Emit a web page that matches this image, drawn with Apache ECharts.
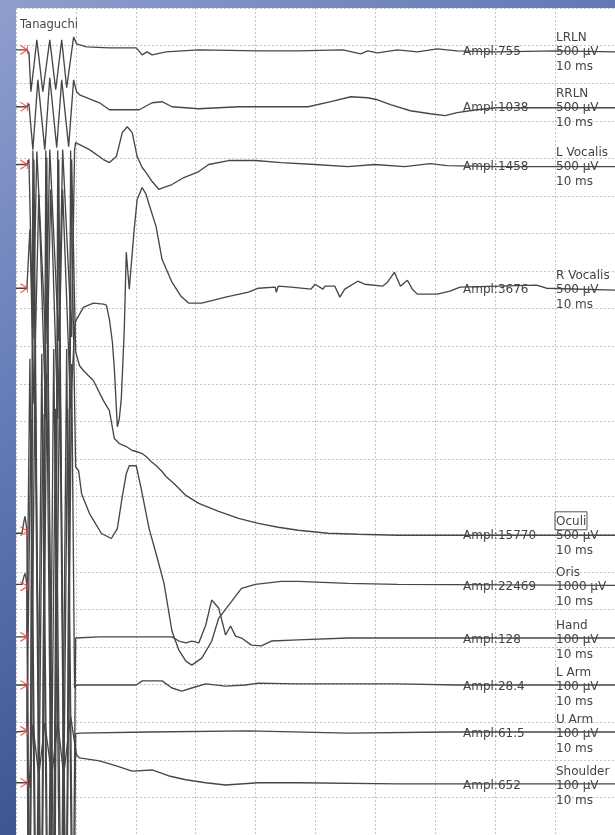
<!DOCTYPE html>
<html><head><meta charset="utf-8">
<script src="https://cdn.jsdelivr.net/npm/echarts@6/dist/echarts.min.js"></script>
<style>html,body{margin:0;padding:0;overflow:hidden;background:#fff}#c{width:615px;height:835px}</style>
</head><body><div id="c"></div>
<script>
// ---------- DATA ----------
const title = 'Tanaguchi';
const channelNames = ['LRLN','RRLN','L Vocalis','R Vocalis','Oculi','Oris','Hand','L Arm','U Arm','Shoulder'];
const sensitivityUV = [500,500,500,500,500,1000,100,100,100,100]; // µV per division
const amplitudes = ['755','1038','1458','3676','15770','22469','128','28.4','61.5','652'];
const timeBaseLabel = '10 ms';
const markerTime = 1.82; // ms

// each trace: [time ms, value µV]
const LRLN = [[0,27],[1.33,27],[1.82,27],[2.16,-13],[2.49,-530],[3.48,159],[4.48,-530],[5.64,159],[6.63,-504],[7.63,159],[8.46,-477],[9.62,199],[10.12,106],[11.77,66],[15.59,53],[20.07,53],[21.06,-40],[21.89,0],[22.72,-40],[25.04,0],[30.51,27],[40.46,13],[47.1,13],[54.56,27],[57.55,-27],[58.71,13],[60.36,-13],[63.68,27],[67,0],[70.32,40],[73.63,13],[80.27,0],[90.22,13],[100,0]];
const RRLN = [[0,13],[1.82,13],[2.16,53],[2.82,-557],[3.65,371],[4.81,-557],[5.64,398],[6.8,-530],[7.63,371],[8.79,-517],[9.62,371],[10.12,212],[10.61,172],[13.93,66],[15.59,-27],[20.56,-27],[22.72,66],[24.38,80],[26.04,13],[30.51,-13],[37.15,13],[48.76,13],[52.57,80],[55.89,146],[58.71,133],[60.36,106],[62.52,40],[65.84,-40],[69.15,-80],[71.64,-106],[73.63,-66],[76.95,-27],[80.27,0],[100,0]];
const LVocalis = [[0,27],[1.82,27],[2.16,93],[2.82,-2294],[3.48,199],[4.98,-2360],[5.64,225],[7.13,-2320],[7.79,225],[9.29,-2267],[9.78,225],[9.95,318],[12.27,225],[14.59,93],[15.59,53],[16.75,133],[17.25,292],[17.74,451],[18.57,530],[19.4,451],[20.23,133],[21.06,-13],[21.72,-80],[22.72,-199],[23.88,-305],[24.71,-278],[26.04,-239],[28.03,-146],[30.51,-66],[32.17,27],[35.49,80],[39.97,80],[44.28,53],[49.92,27],[55.39,0],[59.87,27],[64.84,0],[69.15,40],[71.97,13],[80.27,0],[100,0]];
const RVocalis = [[0,13],[1.82,13],[2.32,796],[2.99,-1525],[3.81,1260],[4.98,-1724],[5.8,1326],[6.97,-1724],[7.79,1326],[9.12,-1591],[9.78,-530],[9.95,-424],[11.28,-239],[12.94,-186],[14.59,-199],[15.09,-212],[15.59,-398],[16.09,-703],[16.42,-1061],[16.92,-1830],[17.25,-1724],[17.58,-1459],[18.08,-530],[18.41,491],[18.91,0],[19.73,796],[20.23,1193],[21.06,1353],[21.72,1260],[22.22,1127],[23.38,835],[24.38,398],[26.04,93],[27.53,-93],[28.86,-186],[31.01,-186],[34.99,-106],[38.81,-40],[40.46,13],[43.28,27],[43.45,-40],[43.78,40],[45.94,27],[49.25,0],[49.92,66],[51.24,0],[51.58,40],[53.23,40],[54.06,-106],[54.89,0],[57.05,106],[58.21,66],[61.19,40],[62.02,93],[63.18,225],[64.18,40],[65.34,119],[66.17,0],[67,-66],[70.32,-66],[72.47,-27],[74.13,27],[86.9,53],[88.56,13],[100,-13]];
const Oculi = [[0,13],[1,13],[1.33,172],[1.49,239],[1.66,159],[1.82,40],[2.16,-6285],[2.99,4986],[4.15,-6285],[5.14,5012],[6.14,-6285],[7.13,4986],[8.29,-6285],[9.29,4986],[9.95,2427],[10.61,2241],[11.28,2175],[12.94,2042],[14.59,1777],[15.59,1644],[16.42,1273],[17.25,1207],[18.41,1167],[19.4,1114],[20.07,1101],[21.06,1074],[21.72,1034],[22.55,968],[23.38,915],[24.38,835],[25.04,769],[26.37,676],[27.2,610],[28.36,517],[30.51,411],[33.83,305],[37.15,212],[40.46,146],[43.78,93],[47.1,53],[52.07,13],[57.05,0],[63.68,-13],[100,-13]];
const Oris = [[0,27],[1,27],[1.33,239],[1.49,318],[1.66,212],[1.82,-27],[2.32,-11222],[2.82,11567],[4.31,-11222],[4.98,11567],[6.47,-11222],[6.97,11567],[8.46,-11222],[9.12,11567],[9.95,3157],[10.45,3051],[10.95,2441],[12.27,1910],[14.26,1380],[15.92,1247],[16.92,1512],[17.74,2361],[18.41,2971],[18.91,3184],[20.07,3184],[20.9,2573],[22.22,1512],[23.38,849],[24.71,53],[26.04,-1220],[27.2,-1724],[28.36,-2016],[29.35,-2122],[31.01,-1936],[32.67,-1485],[33.83,-875],[35.99,-424],[37.65,-80],[39.97,27],[44.28,106],[47.1,106],[55.39,53],[63.68,27],[100,0]];
const Hand = [[0,3],[1.82,3],[2.32,743],[3.32,-982],[4.31,756],[5.31,-982],[6.3,769],[7.46,-982],[8.46,769],[9.45,-982],[9.95,0],[13.93,3],[20.07,3],[26.04,3],[27.2,-8],[28.36,-13],[29.35,-8],[30.51,-13],[31.67,34],[32.67,101],[33.83,80],[34.99,8],[35.82,32],[36.65,5],[37.65,0],[39.3,-19],[40.96,-21],[42.62,-8],[47.1,-5],[55.39,0],[63.68,0],[73.63,0],[100,0]];
const LArm = [[0,0],[1.82,0],[2.16,-857],[3.15,814],[4.15,-857],[5.14,828],[6.14,-857],[7.3,841],[8.29,-857],[9.29,854],[9.78,-8],[10.12,0],[20.07,0],[21.06,11],[24.38,11],[26.04,-8],[27.69,-16],[29.35,-8],[31.67,3],[34.99,-3],[38.31,0],[40.46,5],[47.1,3],[63.68,3],[73.63,0],[100,0]];
const UArm = [[0,0],[1.82,3],[2.49,833],[3.48,-732],[4.48,846],[5.47,-732],[6.63,860],[7.63,-732],[8.62,860],[9.62,-732],[9.95,-5],[10.61,-3],[22.22,0],[38.81,3],[55.39,-3],[71.97,0],[100,0]];
const Shoulder = [[0,3],[1.82,3],[2.16,-11],[2.82,157],[3.81,21],[4.81,162],[5.97,21],[6.97,164],[7.96,24],[9.12,180],[9.78,109],[10.12,77],[10.61,69],[13.93,61],[16.75,48],[19.4,34],[22.72,37],[25.54,21],[28.36,11],[31.67,3],[34.99,-3],[40.46,3],[47.1,3],[63.68,0],[80.27,0],[100,0]];
const traces = [LRLN, RRLN, LVocalis, RVocalis, Oculi, Oris, Hand, LArm, UArm, Shoulder];

// ---------- LAYOUT ----------
const G = {left:16, top:8, width:603, rows:22, rowH:37.7};
const baselineDiv = [1.167, 2.653, 4.218, 7.48, 14.0, 15.36, 16.76, 18.01, 19.26, 20.64];
const traceColor = '#474747';
const textColor = '#444444';
const font = '12px "DejaVu Sans", sans-serif';

const toDiv = (ch) => traces[ch].map(p => [p[0], baselineDiv[ch] - p[1] / sensitivityUV[ch]]);

const series = traces.map((t, i) => ({
  type: 'line', name: channelNames[i], data: toDiv(i), showSymbol: false, symbol: 'none',
  clip: true, animation: false, silent: true, z: 3,
  lineStyle: {color: traceColor, width: 1.35}
}));

// stimulus markers
const markerData = traces.map((t, i) => {
  const p = t.find(q => q[0] === markerTime);
  return [markerTime, baselineDiv[i] - p[1] / sensitivityUV[i]];
});
series.push({
  type: 'scatter', data: markerData, symbol: 'path://M0,0 L6,4 L0,8 M6,0 L6,8',
  symbolSize: [7, 9], symbolOffset: [-3, 0], silent: true, animation: false, z: 4,
  itemStyle: {color: 'rgba(0,0,0,0)', borderColor: '#e8403a', borderWidth: 1.2}
});

const graphic = [];
graphic.push({type: 'text', left: 20, top: 19, z: 5, style: {text: title, font: '11.5px "DejaVu Sans", sans-serif', fill: textColor}});
channelNames.forEach((n, i) => {
  const by = G.top + baselineDiv[i] * G.rowH;
  graphic.push({type: 'text', x: 556, y: by - 14, z: 5, style: {text: n, font, fill: textColor, verticalAlign: 'middle'}});
  graphic.push({type: 'text', x: 556, y: by, z: 5, style: {text: sensitivityUV[i] + ' µV', font, fill: textColor, verticalAlign: 'middle'}});
  graphic.push({type: 'text', x: 556, y: by + 15, z: 5, style: {text: timeBaseLabel, font, fill: textColor, verticalAlign: 'middle'}});
  graphic.push({type: 'text', x: 463, y: by, z: 5, style: {text: 'Ampl:' + amplitudes[i], font, fill: textColor, verticalAlign: 'middle'}});
  if (n === 'Oculi') {
    graphic.push({type: 'rect', z: 5, shape: {x: 555, y: by - 24, width: 32, height: 18}, style: {fill: 'none', stroke: '#555', lineWidth: 1}});
  }
});

const chart = echarts.init(document.getElementById('c'), null, {renderer: 'canvas'});
chart.setOption({
  animation: false,
  backgroundColor: new echarts.graphic.LinearGradient(0, 0, 1, 1, [
    {offset: 0, color: '#909ecd'}, {offset: 0.35, color: '#6179b5'}, {offset: 0.65, color: '#3e5694'}, {offset: 1, color: '#2c4689'}
  ]),
  grid: {left: G.left, top: G.top, width: G.width, height: G.rows * G.rowH, show: true, backgroundColor: '#ffffff', borderWidth: 0},
  xAxis: {type: 'value', min: 0, max: 100, interval: 10,
    axisLine: {show: false}, axisTick: {show: false}, axisLabel: {show: false},
    splitLine: {show: true, lineStyle: {color: '#c4c4c4', width: 1, type: [2, 2]}}},
  yAxis: {type: 'value', min: 0, max: G.rows, interval: 1, inverse: true,
    axisLine: {show: false}, axisTick: {show: false}, axisLabel: {show: false},
    splitLine: {show: true, lineStyle: {color: '#c4c4c4', width: 1, type: [2, 2]}}},
  series: series,
  graphic: graphic
});
</script></body></html>
